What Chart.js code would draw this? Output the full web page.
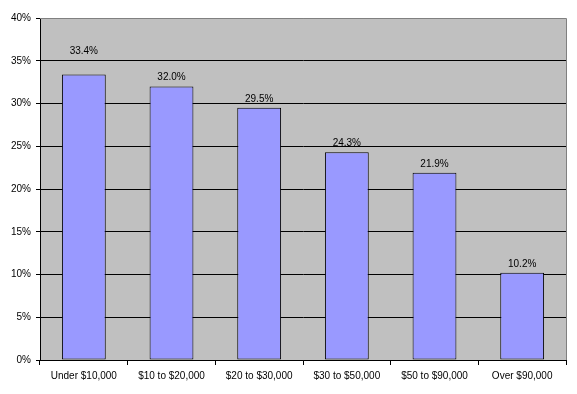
<!DOCTYPE html>
<html>
<head>
<meta charset="utf-8">
<script src="https://cdn.jsdelivr.net/npm/chart.js@4"></script>
<style>
  body { margin: 0; background: #fff; }
  canvas { display: block; }
</style>
</head>
<body>
<canvas id="chart" width="577" height="394"></canvas>
<script>
const categories = ['Under $10,000', '$10 to $20,000', '$20 to $30,000', '$30 to $50,000', '$50 to $90,000', 'Over $90,000']
const shares = [33.4, 32.0, 29.5, 24.3, 21.9, 10.2]
const yTicks = [0, 5, 10, 15, 20, 25, 30, 35, 40]

const FONT = "'Liberation Sans', Arial, sans-serif"

// grey plot area + grey frame on top/right, like the old Excel look
const plotBackground = {
  id: 'plotBackground',
  beforeDraw(chart) {
    const { ctx, chartArea: a } = chart
    ctx.save()
    ctx.fillStyle = '#C0C0C0'
    ctx.fillRect(a.left, a.top, a.right - a.left, a.bottom - a.top)
    ctx.restore()
  },
  afterDraw(chart) {
    const { ctx, chartArea: a } = chart
    ctx.save()
    ctx.strokeStyle = '#808080'
    ctx.lineWidth = 1
    ctx.beginPath()
    ctx.moveTo(a.left, Math.round(a.top) + 0.5)
    ctx.lineTo(Math.round(a.right) + 0.5, Math.round(a.top) + 0.5)
    ctx.lineTo(Math.round(a.right) + 0.5, a.bottom)
    ctx.stroke()
    ctx.restore()
  }
}

const valueLabels = {
  id: 'valueLabels',
  afterDatasetsDraw(chart, args, opts) {
    const { ctx } = chart
    const meta = chart.getDatasetMeta(0)
    ctx.save()
    ctx.font = '10px ' + FONT
    ctx.fillStyle = '#000'
    ctx.textAlign = 'center'
    ctx.textBaseline = 'middle'
    meta.data.forEach((bar, i) => {
      const lift = (opts.nudge && opts.nudge[i]) || 0
      ctx.fillText(shares[i].toFixed(1) + '%', bar.x, bar.y - 9 - lift)
    })
    ctx.restore()
  }
}

const ctx = document.getElementById('chart').getContext('2d')

new Chart(ctx, {
  type: 'bar',
  data: {
    labels: categories,
    datasets: [{
      data: shares,
      backgroundColor: '#9999FF',
      borderColor: '#000',
      borderWidth: 1,
      borderSkipped: false,
      barPercentage: 0.5,
      categoryPercentage: 1
    }]
  },
  options: {
    responsive: false,
    animation: false,
    layout: { padding: { top: 18, right: 11, bottom: 7, left: 0 } },
    plugins: {
      legend: { display: false },
      tooltip: { enabled: false },
      valueLabels: { nudge: { 0: 14 } }
    },
    scales: {
      x: {
        offset: true,
        grid: { offset: true, drawOnChartArea: false, color: '#000', tickLength: 5 },
        border: { color: '#000' },
        ticks: { color: '#000', font: { family: FONT, size: 10 }, padding: 5, maxRotation: 0, autoSkip: false }
      },
      y: {
        min: 0,
        max: 40,
        afterBuildTicks: (scale) => { scale.ticks = yTicks.map(v => ({ value: v })) },
        afterFit: (scale) => { scale.width = 40 },
        grid: {
          color: (c) => c.tick && c.tick.value === 40 ? '#808080' : '#000',
          tickColor: '#000',
          tickLength: 4
        },
        border: { color: '#000' },
        ticks: {
          color: '#000',
          font: { family: FONT, size: 10 },
          padding: 5,
          callback: (v) => v + '%'
        }
      }
    }
  },
  plugins: [plotBackground, valueLabels]
})
</script>
</body>
</html>
